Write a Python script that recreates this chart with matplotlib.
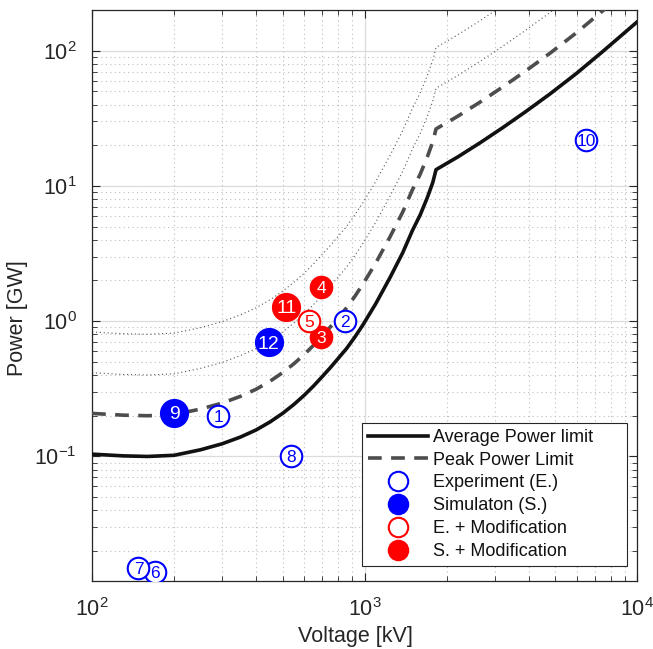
import numpy as np
import matplotlib
matplotlib.use('Agg')
import matplotlib.pyplot as plt
from matplotlib.lines import Line2D
from matplotlib.ticker import LogLocator, LogFormatterMathtext, NullFormatter

plt.rcParams['font.family'] = ['Liberation Sans', 'DejaVu Sans']
plt.rcParams['mathtext.default'] = 'regular'

## limit curve (average power)
volt = [100, 130, 160, 200, 250, 300, 350, 400, 450, 500, 550, 600, 650, 700, 750, 800,
        860, 920, 990, 1100, 1240, 1380, 1500, 1600, 1700, 1780, 1830,
        2200, 2650, 3200, 3900, 4800, 6000, 7500, 10000]
p_avg = [0.104, 0.101, 0.100, 0.102, 0.112, 0.124, 0.139, 0.157, 0.180, 0.208, 0.242, 0.283, 0.332, 0.39, 0.455, 0.53,
         0.63, 0.76, 0.95, 1.35, 2.1, 3.2, 4.7, 6.1, 8.2, 10.6, 13.2,
         16.4, 20.8, 26.8, 35.4, 48, 68, 99, 163]
# peak limit and the two dotted guides are multiples of the average curve
peak_factor = 2
dotted_factors = [4, 8]

## data points
pt_id = [1, 2, 3, 4, 5, 6, 7, 8, 9, 10, 11, 12]
pt_volt = [290, 845, 694, 694, 624, 170, 148, 539, 200, 6490, 516, 445]
pt_power = [0.2, 1.0, 0.77, 1.8, 1.0, 0.014, 0.015, 0.1, 0.21, 22, 1.28, 0.70]
pt_kind = ['E', 'E', 'SM', 'SM', 'EM', 'E', 'E', 'E', 'S', 'E', 'SM', 'S']
pt_big = [9, 11, 12]

style = {'E': ('#0000ff', False), 'S': ('#0000ff', True),
         'EM': ('#ff0000', False), 'SM': ('#ff0000', True)}

fig = plt.figure(figsize=(6.53, 6.49), dpi=100)
ax = fig.add_axes([0.141, 0.1048, 0.8345, 0.8798])

volt_a = np.array(volt)
pavg_a = np.array(p_avg)
for f in dotted_factors:
    ax.plot(volt_a, pavg_a * f, color='#555555', lw=0.8, ls=(0, (1, 2.5)), zorder=2)
ax.plot(volt_a, pavg_a * peak_factor, color='#4d4d4d', lw=2.6, ls=(0, (3.8, 2.6)), zorder=3)
ax.plot(volt_a, pavg_a, color='#111111', lw=2.6, zorder=3)

for i, v, p, k in zip(pt_id, pt_volt, pt_power, pt_kind):
    c, filled = style[k]
    ms = 19.5 if i in pt_big else 15.5
    ax.plot(v, p, 'o', ms=ms, mfc=c if filled else 'white', mec=c, mew=1.5, zorder=5)
    ax.text(v, p, str(i), color='white' if filled else c, fontsize=14 if i in pt_big else 12.5,
            ha='center', va='center_baseline', zorder=6)

ax.set_xscale('log')
ax.set_yscale('log')
ax.set_xlim(100, 10000)
ax.set_ylim(0.012, 200)

for a in (ax.xaxis, ax.yaxis):
    a.set_major_locator(LogLocator(base=10))
    a.set_major_formatter(LogFormatterMathtext())
    a.set_minor_locator(LogLocator(base=10, subs=np.arange(2, 10)))
    a.set_minor_formatter(NullFormatter())

ax.grid(which='major', color='#dcdcdc', lw=0.9, ls='-')
ax.grid(which='minor', color='#bdbdbd', lw=0.8, ls=(0, (1, 3)))
ax.set_axisbelow(True)
ax.tick_params(which='both', direction='in', top=True, right=True, colors='#262626', labelsize=15.5)
ax.tick_params(which='major', length=6, width=0.8)
ax.tick_params(which='minor', length=3.5, width=0.6)
ax.tick_params(axis='x', pad=12)
ax.tick_params(axis='y', pad=11)
for s in ax.spines.values():
    s.set_color('#262626')
    s.set_linewidth(0.9)

ax.set_xlabel('Voltage [kV]', fontsize=15.5, color='#262626')
ax.set_ylabel('Power [GW]', fontsize=15.5, color='#262626')
ax.xaxis.set_label_coords(0.483, -0.079)
ax.yaxis.set_label_coords(-0.117, 0.46)

handles = [
    Line2D([], [], color='#111111', lw=2.6),
    Line2D([], [], color='#4d4d4d', lw=2.6, ls=(0, (3.8, 2.6))),
    Line2D([], [], ls='none', marker='o', ms=14, mfc='white', mec='#0000ff', mew=1.5),
    Line2D([], [], ls='none', marker='o', ms=14, mfc='#0000ff', mec='#0000ff', mew=1.5),
    Line2D([], [], ls='none', marker='o', ms=14, mfc='white', mec='#ff0000', mew=1.5),
    Line2D([], [], ls='none', marker='o', ms=14, mfc='#ff0000', mec='#ff0000', mew=1.5),
]
labels = ['Average Power limit', 'Peak Power Limit', 'Experiment (E.)',
          'Simulaton (S.)', 'E. + Modification', 'S. + Modification']
leg = ax.legend(handles, labels, loc='lower left', mode='expand', fontsize=13,
                handlelength=3.3, handletextpad=0.3, labelspacing=0.32,
                borderpad=0.35, borderaxespad=0,
                fancybox=False, framealpha=1, edgecolor='#262626',
                bbox_to_anchor=(0.495, 0.026, 0.487, 0.245))
leg.get_frame().set_linewidth(0.8)
for t in leg.get_texts():
    t.set_color('#111111')

plt.savefig('out.png', dpi=100)
